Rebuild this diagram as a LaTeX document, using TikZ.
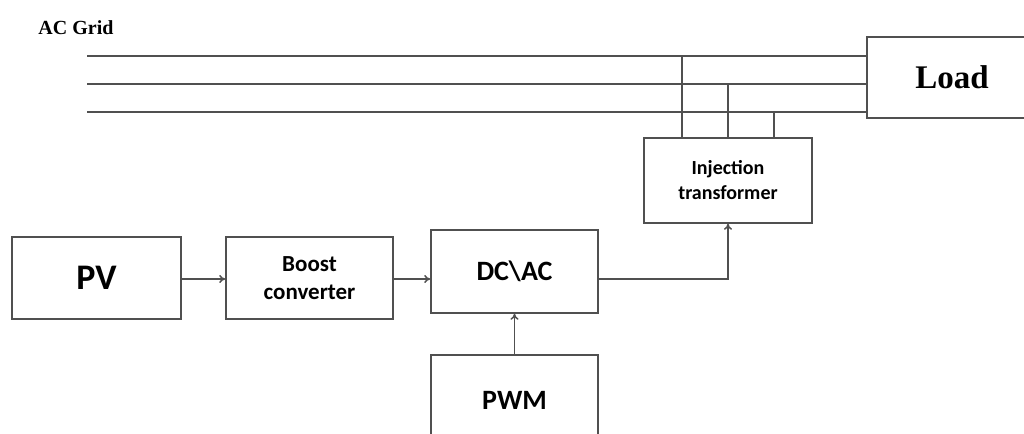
\documentclass[tikz,border=0pt]{standalone}
\usepackage{fontspec}
\setmainfont{Carlito}
\newfontfamily\timesfont{Liberation Serif}
\usetikzlibrary{arrows.meta}
\definecolor{linegray}{RGB}{80,80,80}

\begin{document}
\begin{tikzpicture}[x=0.5pt,y=-0.5pt,
    >={To[length=3pt,width=4pt]},
    wire/.style={draw=linegray,line width=0.75pt},
    block/.style={wire,minimum width=83.5pt,minimum height=41pt,inner sep=0pt,
        align=center,font=\bfseries\fontsize{11.5}{14}\selectfont}]
		\useasboundingbox (0,0) rectangle (1024,434);
		
		\node[font=\timesfont\bfseries\fontsize{10}{12}\selectfont] (grid) at (76,28) {AC Grid};
		\node[block,minimum width=85pt,minimum height=40.5pt,font=\timesfont\bfseries\fontsize{16.5}{19}\selectfont] (load) at (952,77.5) {Load};
		\node[block,minimum width=84pt,minimum height=42.5pt,font=\bfseries\fontsize{10}{12.5}\selectfont] (inj) at (728,180.5) {Injection\\transformer};
		
		\node[block,minimum width=84.5pt,font=\bfseries\fontsize{18}{20}\selectfont] (pv) at (96.5,278) {PV};
		\node[block] (boost) at (309.5,278) {Boost\\converter};
		\node[block,minimum height=41.5pt,font=\bfseries\fontsize{14}{16}\selectfont] (dcac) at (514.5,271.5) {DC\textbackslash AC};
		\node[block,minimum height=45pt,font=\bfseries\fontsize{14}{16}\selectfont] (pwm) at (514.5,400) {PWM};
		
		% three phase lines
		\foreach \y/\name in {56/g1,84/g2,112/g3}{
			\coordinate (\name) at (87,\y);
			\draw[wire] (\name) -- (\name -| load.west);
		}
		\foreach \x/\name in {682/g1,728/g2,774/g3}
			\draw[wire] (\x,0 |- \name) -- (\x,0 |- inj.north);
		
		\coordinate (mid) at (0,279);
		\draw[wire,->] (pv.east |- mid) -- (boost.west |- mid);
		\draw[wire,->] (boost.east |- mid) -- (dcac.west |- mid);
		\draw[wire,->] (dcac.east |- mid) -| (inj.south);
		\draw[wire,->] (pwm.north) -- (dcac.south);
\end{tikzpicture}
\end{document}
